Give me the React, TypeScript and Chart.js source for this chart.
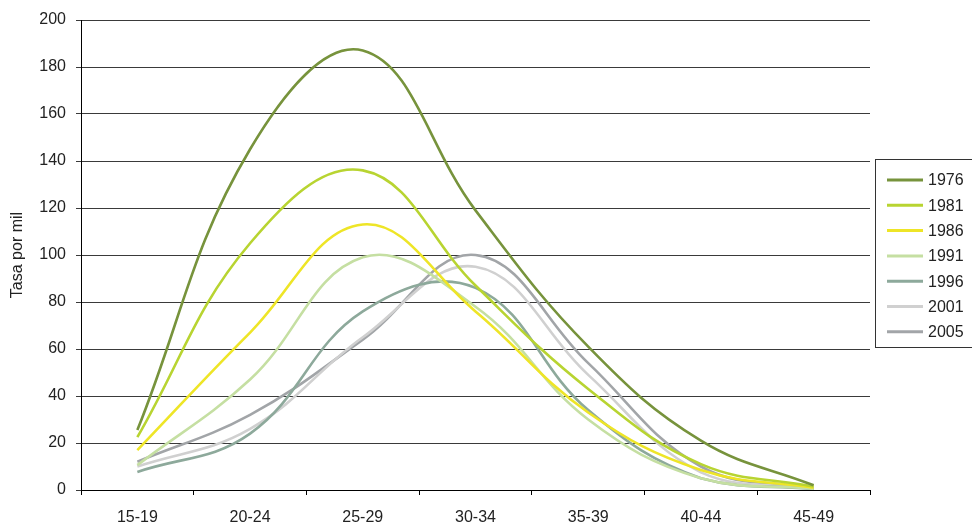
import React, { useEffect, useRef } from 'react';
import { Chart, registerables } from 'chart.js';

Chart.register(...registerables);

const categories = ['15-19', '20-24', '25-29', '30-34', '35-39', '40-44', '45-49'];
const yTicks = [0, 20, 40, 60, 80, 100, 120, 140, 160, 180, 200];

const series1976 = [25.5, 145, 187, 119, 61, 21, 2];
const series1981 = [22.5, 105, 136, 87, 43, 11, 1.5];
const series1986 = [17, 67, 113, 76, 33, 8.5, 1];
const series1991 = [10.6, 47, 99, 78, 30, 5, 0.5];
const series1996 = [7.7, 24, 76, 86, 34, 5, 0.4];
const series2001 = [10, 26, 65, 95, 49, 7.5, 0.5];
const series2005 = [12, 32, 64, 100, 54, 10, 0.6];

const seriesNames = ['1976', '1981', '1986', '1991', '1996', '2001', '2005'];
const seriesValues = [series1976, series1981, series1986, series1991, series1996, series2001, series2005];
const seriesColors = ['#77933C', '#B8D431', '#EEE527', '#C5DFA2', '#8DA99B', '#D0D0D0', '#A2A5A8'];

const FONT = "'Liberation Sans', Arial, sans-serif";

const legendPlugin = {
  id: 'boxLegend',
  afterDraw(chart: any) {
    const ctx = chart.ctx;
    ctx.save();
    ctx.strokeStyle = '#333';
    ctx.lineWidth = 1;
    ctx.strokeRect(875.5, 159.5, 110, 188);
    ctx.font = `16px ${FONT}`;
    ctx.textBaseline = 'middle';
    ctx.textAlign = 'left';
    chart.data.datasets.forEach((ds: any, i: number) => {
      const y = 180 + i * 25.3;
      ctx.strokeStyle = ds.borderColor;
      ctx.lineWidth = 3;
      ctx.beginPath();
      ctx.moveTo(887, y);
      ctx.lineTo(923, y);
      ctx.stroke();
      ctx.fillStyle = '#222';
      ctx.fillText(ds.label, 928, y + 1);
    });
    ctx.restore();
  },
};

export default function App() {
  const ref = useRef<HTMLCanvasElement>(null);
  useEffect(() => {
    document.body.style.margin = '0';
    const chart = new Chart(ref.current as HTMLCanvasElement, {
      type: 'line',
      data: {
        labels: categories,
        datasets: seriesNames.map((name, i) => ({
          label: name,
          data: seriesValues[i],
          borderColor: seriesColors[i],
          backgroundColor: seriesColors[i],
          borderWidth: 2.6,
          pointRadius: 0,
          tension: 0.4,
          fill: false,
        })),
      },
      options: {
        animation: false,
        responsive: true,
        maintainAspectRatio: false,
        layout: { padding: { left: 0, right: 102, top: 20, bottom: 0 } },
        plugins: { legend: { display: false }, tooltip: { enabled: false } },
        scales: {
          x: {
            offset: true,
            grid: { offset: true, drawOnChartArea: false, tickLength: 5, color: '#000' },
            border: { color: '#000' },
            ticks: { padding: 13, color: '#222', font: { family: FONT, size: 16 } },
            afterFit: (s: any) => { s.height = 33; },
          },
          y: {
            min: 0,
            max: 200,
            afterBuildTicks: (s: any) => { s.ticks = yTicks.map((v) => ({ value: v })); },
            grid: { color: '#3a3a3a', tickLength: 5 },
            border: { color: '#000' },
            ticks: { padding: 10, color: '#222', font: { family: FONT, size: 16 } },
            title: { display: true, text: 'Tasa por mil', color: '#222', font: { family: FONT, size: 16 }, padding: { top: 8, bottom: 0 } },
            afterFit: (s: any) => { s.width = 81; },
          },
        },
      },
      plugins: [legendPlugin],
    });
    return () => chart.destroy();
  }, []);
  return (
    <div style={{ width: 972, height: 523, position: 'relative' }}>
      <canvas ref={ref} />
    </div>
  );
}
